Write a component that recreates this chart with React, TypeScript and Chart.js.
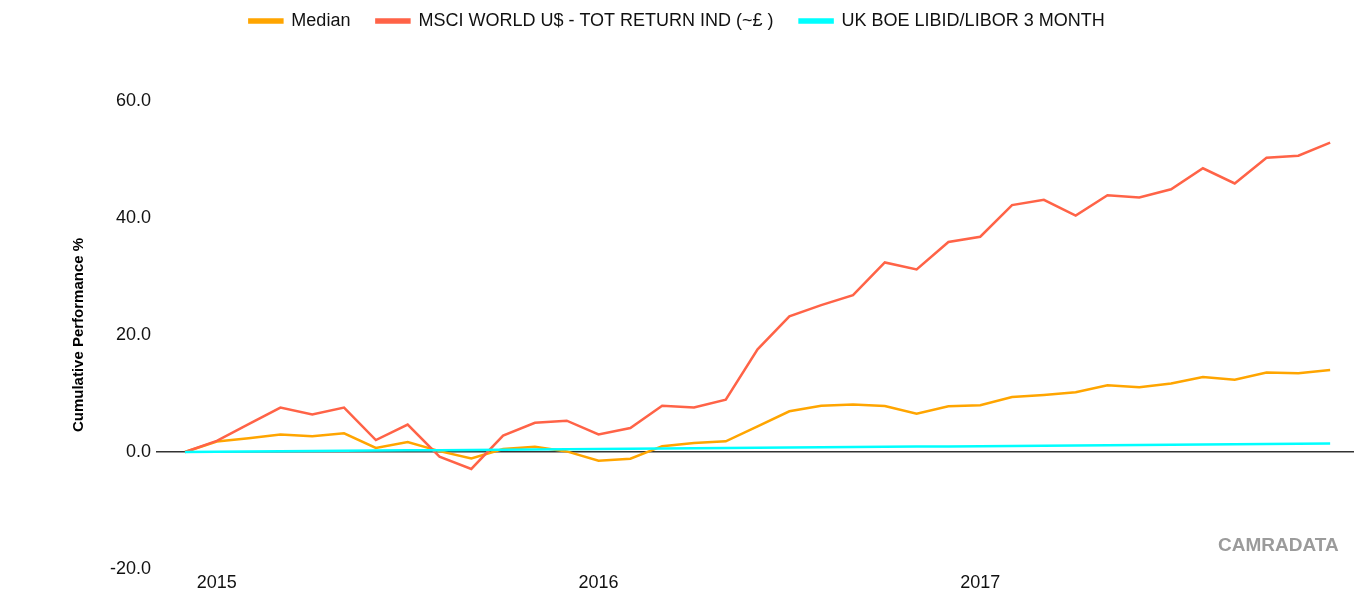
import React, { useEffect, useRef } from "react";
import { Chart, registerables } from "chart.js";

Chart.register(...registerables);

const categories = [
  "Dec 2014",
  "Jan 2015", "Feb 2015", "Mar 2015", "Apr 2015", "May 2015", "Jun 2015",
  "Jul 2015", "Aug 2015", "Sep 2015", "Oct 2015", "Nov 2015", "Dec 2015",
  "Jan 2016", "Feb 2016", "Mar 2016", "Apr 2016", "May 2016", "Jun 2016",
  "Jul 2016", "Aug 2016", "Sep 2016", "Oct 2016", "Nov 2016", "Dec 2016",
  "Jan 2017", "Feb 2017", "Mar 2017", "Apr 2017", "May 2017", "Jun 2017",
  "Jul 2017", "Aug 2017", "Sep 2017", "Oct 2017", "Nov 2017", "Dec 2017",
];

const yearTickLabels = ["2015", "2016", "2017"];

const medianValues = [
  0, 1.8, 2.35, 3.0, 2.7, 3.2, 0.7, 1.7, 0.15, -1.1, 0.5, 0.9, 0.1,
  -1.5, -1.15, 1.0, 1.55, 1.83, 4.4, 6.96, 7.9, 8.1, 7.86, 6.56, 7.8,
  7.98, 9.4, 9.74, 10.2, 11.4, 11.06, 11.7, 12.8, 12.36, 13.6, 13.45, 14.0,
];

const msciValues = [
  0, 1.9, 4.75, 7.6, 6.4, 7.6, 2.05, 4.7, -0.8, -2.9, 2.8, 5.0, 5.35,
  3.0, 4.1, 7.9, 7.6, 8.95, 17.55, 23.2, 25.1, 26.8, 32.4, 31.2, 35.9,
  36.8, 42.2, 43.1, 40.4, 43.9, 43.5, 44.9, 48.5, 45.9, 50.3, 50.65, 52.9,
];

const liborValues = [
  0, 0.04, 0.08, 0.12, 0.16, 0.2, 0.24, 0.28, 0.32, 0.36, 0.4, 0.44, 0.48,
  0.52, 0.56, 0.6, 0.64, 0.68, 0.72, 0.76, 0.8, 0.84, 0.88, 0.92, 0.96,
  1.0, 1.04, 1.08, 1.12, 1.16, 1.2, 1.24, 1.28, 1.32, 1.36, 1.4, 1.44,
];

const yTicks = [-20, 0, 20, 40, 60];

const FONT = '"Liberation Sans", Arial, sans-serif';

export default function App() {
  const canvasRef = useRef<HTMLCanvasElement | null>(null);

  useEffect(() => {
    const canvas = canvasRef.current;
    if (!canvas) return;

    const toPoints = (vals: number[]) => vals.map((v, i) => ({ x: i, y: v }));
    const yearIdx = yearTickLabels.map((y) => categories.indexOf("Jan " + y));

    const legendSpace = {
      id: "legendSpace",
      beforeInit(chart: any) {
        const legend = chart.legend;
        if (!legend) return;
        const orig = legend.fit;
        legend.fit = function () {
          orig.call(this);
          this.height = 115;
        };
      },
    };

    const watermark = {
      id: "watermark",
      afterDraw(chart: any) {
        const ctx = chart.ctx;
        ctx.save();
        ctx.font = 'bold 19px "Liberation Sans", Arial, sans-serif';
        ctx.fillStyle = "#9b9b9b";
        ctx.textAlign = "left";
        ctx.textBaseline = "middle";
        ctx.fillText("CAMRADATA", 1218, 546);
        ctx.restore();
      },
    };

    const chart = new Chart(canvas, {
      type: "line",
      data: {
        datasets: [
          {
            label: "Median",
            data: toPoints(medianValues),
            borderColor: "#FFA500",
            backgroundColor: "#FFA500",
            borderWidth: 2.5,
            pointRadius: 0,
            tension: 0,
            order: 2,
          },
          {
            label: "MSCI WORLD U$ - TOT RETURN IND (~£ )",
            data: toPoints(msciValues),
            borderColor: "#FF6347",
            backgroundColor: "#FF6347",
            borderWidth: 2.5,
            pointRadius: 0,
            tension: 0,
            order: 1,
          },
          {
            label: "UK BOE LIBID/LIBOR 3 MONTH",
            data: toPoints(liborValues),
            borderColor: "#00FFFF",
            backgroundColor: "#00FFFF",
            borderWidth: 2.5,
            pointRadius: 0,
            tension: 0,
            order: 0,
          },
        ],
      },
      options: {
        animation: false,
        responsive: true,
        maintainAspectRatio: false,
        events: [],
        layout: { padding: { top: -14, left: 0, right: 0, bottom: 0 } },
        font: { family: FONT },
        plugins: {
          tooltip: { enabled: false },
          legend: {
            display: true,
            position: "top",
            labels: {
              font: { family: FONT, size: 18 },
              color: "#111",
              boxWidth: 33,
              boxHeight: 3,
              padding: 26,
              sort: (a: any, b: any) => a.datasetIndex - b.datasetIndex,
            },
          },
        },
        scales: {
          x: {
            type: "linear",
            min: -0.912,
            max: 36.75,
            grid: { display: false, drawTicks: false },
            border: { display: false },
            afterBuildTicks: (scale: any) => {
              scale.ticks = yearIdx.map((v) => ({ value: v }));
            },
            afterFit: (scale: any) => {
              scale.height = 28;
            },
            ticks: {
              autoSkip: false,
              maxRotation: 0,
              padding: 3,
              color: "#111",
              font: { family: FONT, size: 18 },
              callback: (value: any) => {
                const i = yearIdx.indexOf(Number(value));
                return i >= 0 ? yearTickLabels[i] : "";
              },
            },
          },
          y: {
            type: "linear",
            min: -20,
            max: 60,
            afterBuildTicks: (scale: any) => {
              scale.ticks = yTicks.map((v) => ({ value: v }));
            },
            afterFit: (scale: any) => {
              scale.width = 156;
            },
            grid: {
              drawTicks: false,
              color: (ctx: any) => (ctx.tick && ctx.tick.value === 0 ? "#333" : "rgba(0,0,0,0)"),
              lineWidth: (ctx: any) => (ctx.tick && ctx.tick.value === 0 ? 1.6 : 0),
            },
            border: { display: false },
            ticks: {
              padding: 5,
              color: "#111",
              font: { family: FONT, size: 18 },
              callback: (value: any) => Number(value).toFixed(1),
            },
            title: {
              display: true,
              text: "Cumulative Performance %",
              color: "#000",
              font: { family: FONT, size: 15, weight: "bold" },
              padding: { top: 70, bottom: 0 },
            },
          },
        },
      },
      plugins: [legendSpace, watermark],
    });

    return () => {
      chart.destroy();
    };
  }, []);

  return (
    <div
      style={{
        position: "fixed",
        left: 0,
        top: 0,
        width: "1354px",
        height: "597px",
        background: "#fff",
      }}
    >
      <canvas ref={canvasRef} />
    </div>
  );
}
